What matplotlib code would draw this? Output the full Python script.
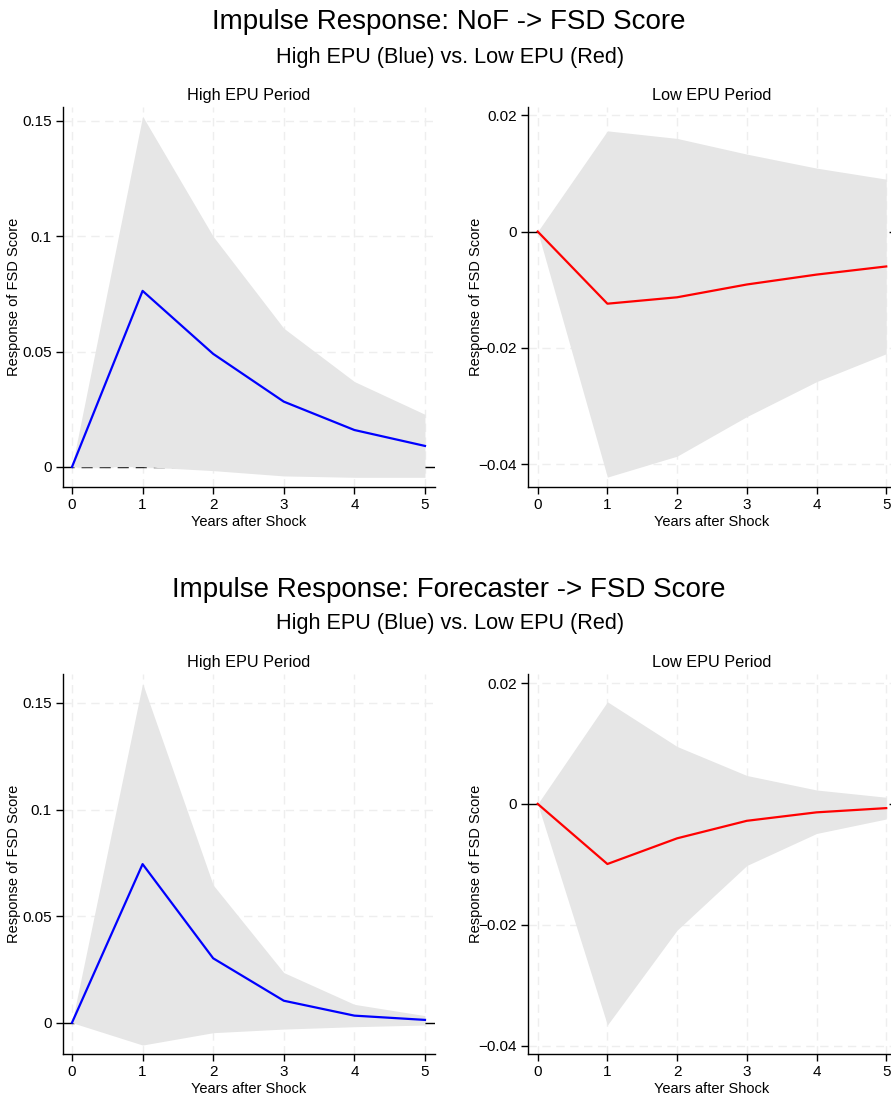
import matplotlib
matplotlib.use('Agg')
import matplotlib.pyplot as plt
import numpy as np

plt.rcParams['font.family'] = ['Liberation Sans', 'DejaVu Sans']

# 横轴：冲击后年份
years = [0, 1, 2, 3, 4, 5]
xtick_labels = ['0', '1', '2', '3', '4', '5']

# NoF -> FSD Score
nof_high_irf = [0, 0.0763, 0.049, 0.0283, 0.016, 0.0091]
nof_high_upper = [0, 0.152, 0.0999, 0.0601, 0.037, 0.0228]
nof_high_lower = [0, 0.0001, -0.0016, -0.0039, -0.0045, -0.0045]
nof_low_irf = [0, -0.0124, -0.0113, -0.0091, -0.0074, -0.006]
nof_low_upper = [0, 0.0173, 0.016, 0.0133, 0.0109, 0.009]
nof_low_lower = [0, -0.0422, -0.0386, -0.0318, -0.0258, -0.021]

# Forecaster -> FSD Score
fc_high_irf = [0, 0.0744, 0.0302, 0.0103, 0.0033, 0.0013]
fc_high_upper = [0, 0.1592, 0.0646, 0.0235, 0.0086, 0.0033]
fc_high_lower = [0, -0.0105, -0.0047, -0.003, -0.0019, -0.0011]
fc_low_irf = [0, -0.00995, -0.0057, -0.0028, -0.0014, -0.0007]
fc_low_upper = [0, 0.0169, 0.0095, 0.0047, 0.0023, 0.0011]
fc_low_lower = [0, -0.0366, -0.0209, -0.0102, -0.0049, -0.0025]

high_yticks = [0, 0.05, 0.1, 0.15]
high_ylabels = ['0', '0.05', '0.1', '0.15']
low_yticks = [-0.04, -0.02, 0, 0.02]
low_ylabels = ['\u22120.04', '\u22120.02', '0', '0.02']

W, H = 891, 1098
fig = plt.figure(figsize=(W / 100, H / 100), dpi=100)


def px_axes(left, top, right, bottom):
    return fig.add_axes([left / W, 1 - bottom / H, (right - left) / W, (bottom - top) / H])


def draw_panel(ax, irf, lower, upper, color, title, yticks, ylabels, xlim, ylim, ylab_x):
    ax.axhline(0, color='black', linestyle=(0, (8, 5)), linewidth=1, zorder=1)
    ax.fill_between(years, lower, upper, color='#e6e6e6', linewidth=0, zorder=2)
    ax.plot(years, irf, color=color, linewidth=1.6, zorder=3)
    ax.set_xlim(*xlim)
    ax.set_ylim(*ylim)
    ax.set_xticks(years)
    ax.set_xticklabels(xtick_labels)
    ax.set_yticks(yticks)
    ax.set_yticklabels(ylabels)
    ax.grid(True, color='#eeeeee', linestyle=(0, (6, 4)), linewidth=1)
    ax.set_axisbelow(True)
    for s in ['top', 'right']:
        ax.spines[s].set_visible(False)
    for s in ['left', 'bottom']:
        ax.spines[s].set_linewidth(1)
    ax.tick_params(axis='both', labelsize=11, length=5, width=1, pad=3)
    ax.set_title(title, fontsize=11.7, pad=5)
    ax.set_xlabel('Years after Shock', fontsize=10.5, labelpad=2)
    ax.set_ylabel('Response of FSD Score', fontsize=10.5)
    ax.yaxis.set_label_coords(ylab_x, 0.5)


xl_left = (-0.1275, 5.142)
xl_right = (-0.139, 5.14)

ax1 = px_axes(63, 107, 435, 487)
draw_panel(ax1, nof_high_irf, nof_high_lower, nof_high_upper, '#0000ff', 'High EPU Period',
           high_yticks, high_ylabels, xl_left, (-0.0087, 0.156), -0.113)
ax2 = px_axes(528, 107, 896, 487)
draw_panel(ax2, nof_low_irf, nof_low_lower, nof_low_upper, '#ff0000', 'Low EPU Period',
           low_yticks, low_ylabels, xl_right, (-0.0439, 0.0214), -0.1225)
ax3 = px_axes(63, 674, 435, 1054)
draw_panel(ax3, fc_high_irf, fc_high_lower, fc_high_upper, '#0000ff', 'High EPU Period',
           high_yticks, high_ylabels, xl_left, (-0.0147, 0.1636), -0.113)
ax4 = px_axes(528, 674, 896, 1054)
draw_panel(ax4, fc_low_irf, fc_low_lower, fc_low_upper, '#ff0000', 'Low EPU Period',
           low_yticks, low_ylabels, xl_right, (-0.0414, 0.0215), -0.1225)

fig.text(449 / W, 1 - 22 / H, 'Impulse Response: NoF -> FSD Score', fontsize=20, ha='center', va='center')
fig.text(450 / W, 1 - 57 / H, 'High EPU (Blue) vs. Low EPU (Red)', fontsize=15.6, ha='center', va='center')
fig.text(449 / W, 1 - 590 / H, 'Impulse Response: Forecaster -> FSD Score', fontsize=20, ha='center', va='center')
fig.text(450 / W, 1 - 624 / H, 'High EPU (Blue) vs. Low EPU (Red)', fontsize=15.6, ha='center', va='center')

fig.savefig('out.png', dpi=100)
